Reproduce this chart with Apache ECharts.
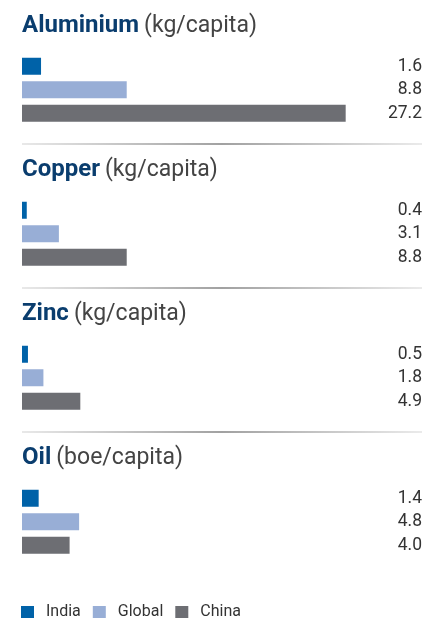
<!DOCTYPE html>
<html>
<head>
<meta charset="utf-8">
<script src="https://cdn.jsdelivr.net/npm/echarts@6/dist/echarts.min.js"></script>
<style>
  html, body { margin: 0; padding: 0; background: #fff; }
  #chart { width: 427px; height: 619px; }
</style>
</head>
<body>
<div id="chart"></div>
<script>
// data
var metals = ['Aluminium', 'Copper', 'Zinc', 'Oil'];
var units = ['(kg/capita)', '(kg/capita)', '(kg/capita)', '(boe/capita)'];
var seriesNames = ['India', 'Global', 'China'];
var india = [1.6, 0.4, 0.5, 1.4];
var global = [8.8, 3.1, 1.8, 4.8];
var china = [27.2, 8.8, 4.9, 4.0];

var colors = ['#0062a8', '#98aed6', '#6d6e73'];
var panelStep = 144;

var grids = [], xAxes = [], yAxes = [], series = [], titles = [], graphics = [];
for (var i = 0; i < metals.length; i++) {
    var off = i * panelStep;
    var vals = [india[i], global[i], china[i]];
    grids.push({ left: 22, right: 48, top: off + 54.5, height: 70.5 });
    xAxes.push({ gridIndex: i, type: 'value', min: 0, max: 30, show: false });
    // left axis: categories (hidden), right axis: the value labels
    yAxes.push({
        gridIndex: i, type: 'category', inverse: true, data: seriesNames,
        axisLine: { show: false }, axisTick: { show: false }, axisLabel: { show: false }
    });
    yAxes.push({
        gridIndex: i, type: 'category', inverse: true, position: 'right',
        data: vals.map(function (v) { return v.toFixed(1); }),
        axisLine: { show: false }, axisTick: { show: false },
        axisLabel: { align: 'right', margin: 43, color: '#333', fontSize: 17.5, fontFamily: 'Roboto' }
    });
    for (var s = 0; s < 3; s++) {
        var d = [null, null, null];
        d[s] = vals[s];
        series.push({
            name: seriesNames[s], type: 'bar', xAxisIndex: i, yAxisIndex: i * 2,
            data: d, barWidth: 17, barGap: '-100%', silent: true,
            itemStyle: { color: colors[s] }
        });
    }
    titles.push({
        left: 22, top: off + 12, padding: 0,
        text: '{b|' + metals[i] + '} {u|' + units[i] + '}',
        textStyle: {
            rich: {
                b: { fontFamily: 'Roboto', fontWeight: 'bold', fontSize: 24, color: '#0a3d6e', lineHeight: 28 },
                u: { fontFamily: 'Roboto', fontWeight: 'normal', fontSize: 23, color: '#444', lineHeight: 28 }
            }
        }
    });
    if (i > 0) {
        graphics.push({
            type: 'line', shape: { x1: 22, y1: off, x2: 422, y2: off },
            style: {
                lineWidth: 1.2,
                stroke: new echarts.graphic.LinearGradient(0, 0, 1, 0, [
                    { offset: 0, color: '#d4d4d4' },
                    { offset: 0.5, color: '#444' },
                    { offset: 1, color: '#d8d8d8' }
                ])
            }
        });
    }
}

var chart = echarts.init(document.getElementById('chart'));
chart.setOption({
    animation: false,
    title: titles,
    grid: grids,
    xAxis: xAxes,
    yAxis: yAxes,
    series: series,
    graphic: graphics,
    legend: {
        data: seriesNames, left: 21, top: 604, padding: 0, icon: 'rect',
        itemWidth: 13, itemHeight: 12, itemGap: 12,
        textStyle: { fontFamily: 'Roboto', fontSize: 16, color: '#333', padding: [0, 0, 0, 7] }
    }
});
</script>
</body>
</html>
